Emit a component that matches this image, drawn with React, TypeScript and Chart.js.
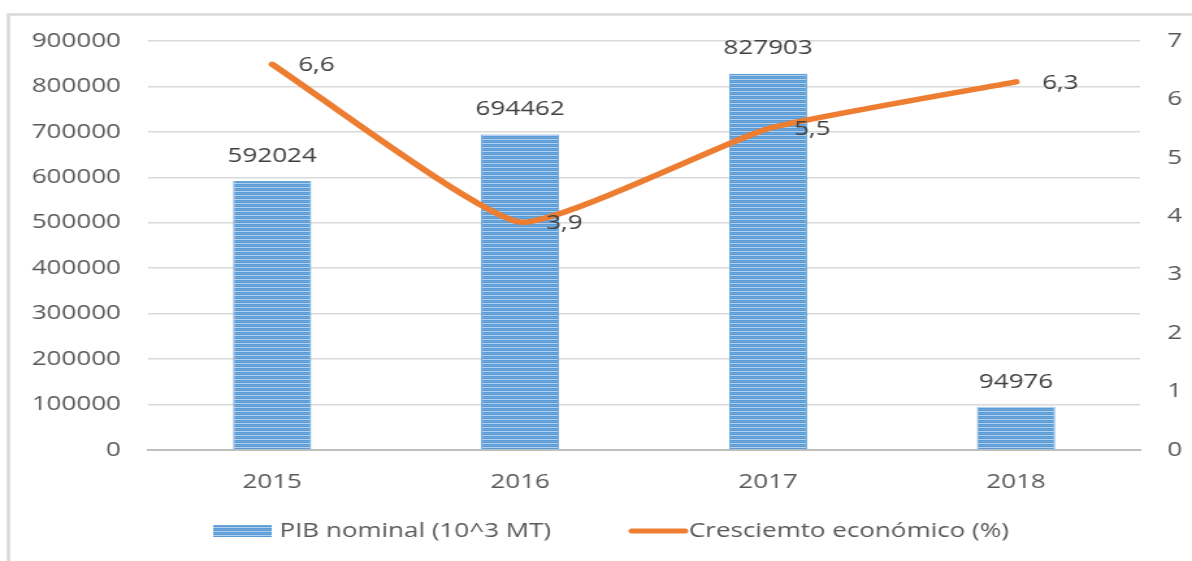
import React, { useEffect, useRef } from "react";
import { Chart, registerables } from "chart.js";

Chart.register(...registerables);

const years = ["2015", "2016", "2017", "2018"];
const pibNominal = [592024, 694462, 827903, 94976];
const growth = [6.6, 3.9, 5.5, 6.3];
const pibLabel = "PIB nominal (10^3 MT)";
const growthLabel = "Cresciemto económico (%)";
const leftMax = 900000;
const leftStep = 100000;
const rightMax = 7;
const rightStep = 1;

const W = 917;
const H = 561;
const CSS_W = 1192;
const FONT = "'Open Sans', sans-serif";
const ORANGE = "#ED7D31";
const TEXT = "#404040";
const TICK = "#595959";

function makePattern(ctx: CanvasRenderingContext2D) {
  const c = document.createElement("canvas");
  c.width = 4;
  c.height = 4;
  const p = c.getContext("2d")!;
  const rows = ["#5B9BD5", "#6DA7DC", "#5B9BD5", "#B2D0EE"];
  rows.forEach((col, i) => {
    p.fillStyle = col;
    p.fillRect(0, i, 4, 1);
  });
  return ctx.createPattern(c, "repeat")!;
}

export default function App() {
  const ref = useRef<HTMLCanvasElement | null>(null);

  useEffect(() => {
    document.body.style.margin = "0";
    const canvas = ref.current!;
    const ctx = canvas.getContext("2d")!;
    const pattern = makePattern(ctx);

    const framePlugin = {
      id: "frame",
      beforeDraw(chart: any) {
        const c = chart.ctx;
        c.save();
        c.fillStyle = "#ffffff";
        c.fillRect(0, 0, W, H);
        c.strokeStyle = "#d9d9d9";
        c.lineWidth = 2.5;
        c.strokeRect(6.5, 14.5, W + 50, H + 50);
        c.restore();
      },
    };

    const labelsPlugin = {
      id: "valueLabels",
      afterDatasetsDraw(chart: any) {
        const c = chart.ctx;
        c.save();
        c.font = `20px ${FONT}`;
        c.fillStyle = TEXT;
        const barMeta = chart.getDatasetMeta(1);
        c.textAlign = "center";
        c.textBaseline = "middle";
        barMeta.data.forEach((el: any, i: number) => {
          c.fillText(String(pibNominal[i]), el.x, el.y - 25);
        });
        const lineMeta = chart.getDatasetMeta(0);
        c.textAlign = "left";
        lineMeta.data.forEach((el: any, i: number) => {
          c.fillText(String(growth[i]).replace(".", ","), el.x + 20, el.y + 1);
        });
        c.restore();
      },
      afterDraw(chart: any) {
        const c = chart.ctx;
        c.save();
        const ly = 531;
        c.fillStyle = pattern;
        c.fillRect(164, ly - 6, 45, 12);
        c.font = `20px ${FONT}`;
        c.fillStyle = TICK;
        c.textAlign = "left";
        c.textBaseline = "middle";
        c.fillText(pibLabel, 215, ly);
        c.strokeStyle = ORANGE;
        c.lineWidth = 5;
        c.lineCap = "round";
        c.beginPath();
        c.moveTo(486, ly);
        c.lineTo(527, ly);
        c.stroke();
        c.fillText(growthLabel, 530, ly);
        c.restore();
      },
    };

    const chart = new Chart(ctx, {
      type: "bar",
      data: {
        labels: years,
        datasets: [
          {
            type: "line",
            label: growthLabel,
            data: growth,
            yAxisID: "y1",
            borderColor: ORANGE,
            backgroundColor: ORANGE,
            borderWidth: 5.5,
            pointRadius: 0,
            tension: 0.15,
            borderCapStyle: "round",
            borderJoinStyle: "round",
            order: 0,
          } as any,
          {
            type: "bar",
            label: pibLabel,
            data: pibNominal,
            yAxisID: "y",
            backgroundColor: pattern as any,
            borderColor: "#5B9BD5",
            borderWidth: { left: 1, right: 1, top: 0, bottom: 0 } as any,
            categoryPercentage: 1,
            barPercentage: 0.315,
            order: 1,
          } as any,
        ],
      },
      options: {
        responsive: false,
        animation: false,
        maintainAspectRatio: false,
        layout: { padding: { top: 41, bottom: 51, left: 0, right: 0 } },
        plugins: {
          legend: { display: false },
          tooltip: { enabled: false },
        },
        scales: {
          x: {
            grid: { display: false, drawTicks: false },
            border: { display: true, color: "#bfbfbf", width: 2 },
            ticks: {
              font: { family: FONT, size: 20 },
              color: TICK,
              padding: 20,
            },
            afterFit(scale: any) {
              scale.height = 60;
            },
          },
          y: {
            position: "left",
            min: 0,
            max: leftMax,
            grid: { color: "#d9d9d9", lineWidth: 1.5, drawTicks: false },
            border: { display: false },
            ticks: {
              stepSize: leftStep,
              font: { family: FONT, size: 20 },
              color: TICK,
              padding: 21,
              callback: (v: any) => String(v),
            },
            afterFit(scale: any) {
              scale.width = 114;
            },
          },
          y1: {
            position: "right",
            min: 0,
            max: rightMax,
            grid: { display: false, drawTicks: false },
            border: { display: false },
            ticks: {
              stepSize: rightStep,
              font: { family: FONT, size: 20 },
              color: TICK,
              padding: 21,
              callback: (v: any) => String(v),
            },
            afterFit(scale: any) {
              scale.width = 40;
            },
          },
        },
      },
      plugins: [framePlugin, labelsPlugin],
    });

    return () => chart.destroy();
  }, []);

  return (
    <canvas
      ref={ref}
      width={W}
      height={H}
      style={{ width: `${CSS_W}px`, height: `${H}px`, display: "block" }}
    />
  );
}
